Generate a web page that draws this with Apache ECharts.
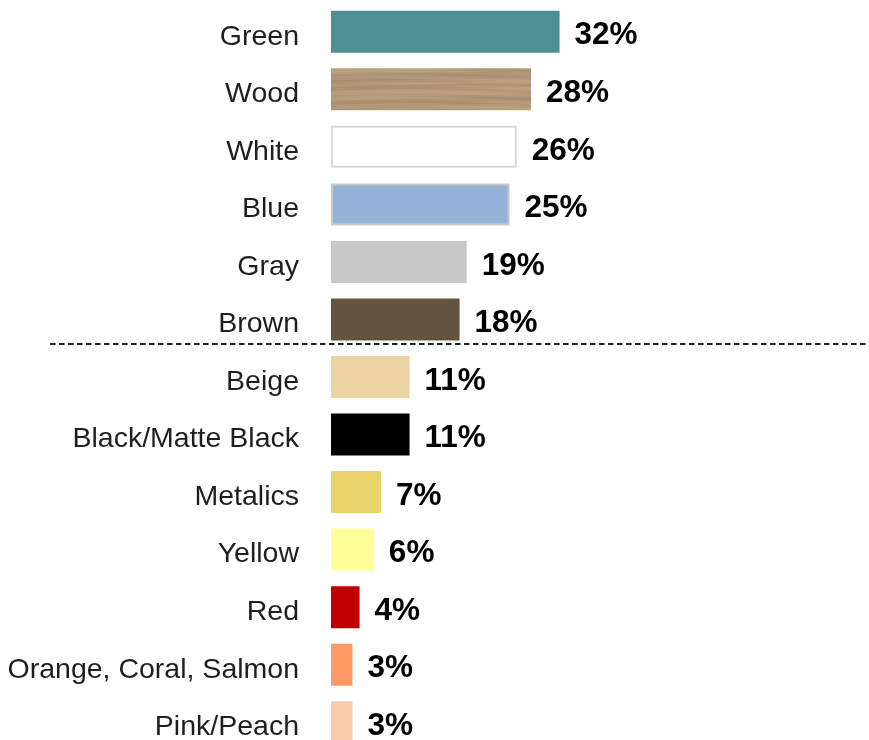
<!DOCTYPE html>
<html>
<head>
<meta charset="utf-8">
<script src="https://cdn.jsdelivr.net/npm/echarts@6/dist/echarts.min.js"></script>
<style>
  html, body { margin: 0; padding: 0; background: #ffffff; }
  #chart { width: 869px; height: 740px; }
</style>
</head>
<body>
<div id="chart"></div>
<script>
// Share of respondents choosing each color (percent)
const categories = [
  'Green', 'Wood', 'White', 'Blue', 'Gray', 'Brown',
  'Beige', 'Black/Matte Black', 'Metalics', 'Yellow', 'Red',
  'Orange, Coral, Salmon', 'Pink/Peach'
];
const values = [32, 28, 26, 25, 19, 18, 11, 11, 7, 6, 4, 3, 3];

// Fill for each bar, in the same order as the categories
const barColors = [
  '#4e8f94', 'wood', '#ffffff', '#95b3d9', '#c8c8c8', '#62543d',
  '#ebd3a4', '#000000', '#e8d46a', '#ffff99', '#c00000',
  '#ff9966', '#f8cbad'
];

// Wood-grain texture built on an offscreen canvas (smooth horizontal streaks)
function woodTexture() {
  const c = document.createElement('canvas');
  c.width = 600; c.height = 42;
  const g = c.getContext('2d');
  for (let y = 0; y < c.height; y++) {
    for (let x = 0; x < c.width; x += 3) {
      const s = Math.sin(y * 0.9 + Math.sin(x * 0.02) * 2) * 5 +
                Math.sin(y * 0.37 + x * 0.011) * 6 +
                Math.sin(x * 0.05 + y * 2.3) * 2.5;
      const r = Math.round(178 + s), gg = Math.round(152 + s * 0.9), b = Math.round(120 + s * 0.8);
      g.fillStyle = 'rgb(' + r + ',' + gg + ',' + b + ')';
      g.fillRect(x, y, 3, 1);
    }
  }
  return c;
}
const wood = woodTexture();

function styleFor(i) {
  const col = barColors[i];
  if (col === 'wood') return { color: { image: wood, repeat: 'repeat' } };
  if (categories[i] === 'White') return { color: col, borderColor: '#d9d9d9', borderWidth: 2 };
  if (categories[i] === 'Blue') return { color: col, borderColor: '#c8c8c8', borderWidth: 2 };
  return { color: col };
}

const chart = echarts.init(document.getElementById('chart'), null, { renderer: 'canvas' });

chart.setOption({
  animation: false,
  backgroundColor: '#ffffff',
  grid: {
    left: 331, width: 500, top: 3, height: 748,
    containLabel: false, outerBoundsMode: 'none'
  },
  xAxis: {
    type: 'value', min: 0, max: 70,
    show: false
  },
  yAxis: {
    type: 'category',
    data: categories,
    inverse: true,
    axisLine: { show: false },
    axisTick: { show: false },
    splitLine: { show: false },
    axisLabel: {
      margin: 32,
      formatter: v => '{c|' + v + '}',
      rich: {
        c: {
          padding: [10, 0, 0, 0],
          fontFamily: 'Liberation Sans, Arial, sans-serif',
          fontSize: 28.5,
          color: '#1e1e1e'
        }
      }
    }
  },
  series: [{
    type: 'bar',
    barWidth: 42,
    data: values.map((v, i) => ({ value: v, itemStyle: styleFor(i) })),
    label: {
      show: true,
      position: 'right',
      distance: 15,
      offset: [0, 4],
      formatter: p => p.value + '%',
      fontFamily: 'Liberation Sans, Arial, sans-serif',
      fontWeight: 'bold',
      fontSize: 31.5,
      color: '#000000'
    }
  }],
  graphic: [{
    type: 'line',
    shape: { x1: 50, y1: 344, x2: 869, y2: 344 },
    style: { stroke: '#231f20', lineWidth: 1.8, lineDash: [5.5, 3.5] },
    silent: true
  }]
});
</script>
</body>
</html>
